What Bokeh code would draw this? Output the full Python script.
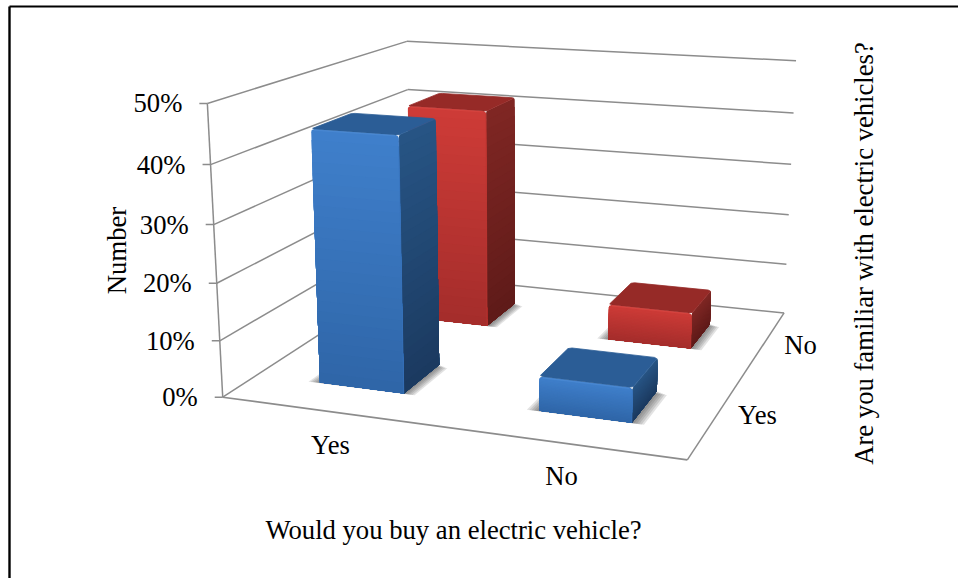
import numpy as np
from bokeh.plotting import figure
from bokeh.models import Range1d, ColumnDataSource
from bokeh.core.properties import value
from bokeh.embed import file_html
from bokeh.resources import INLINE

# Survey results, percent of respondents
buy_categories = ["Yes", "No"]
familiar_categories = ["Yes", "No"]
familiar_yes = [44.5, 6.0]
familiar_no = [41.8, 6.8]
tick_values = [0, 10, 20, 30, 40, 50]
tick_labels = ["0%", "10%", "20%", "30%", "40%", "50%"]

AXIS_MAX = 50.0
BAR_SIZE = 0.197
ROUND_XY = 0.007   # corner rounding on the floor plane
ROUND_Z = 0.55     # corner rounding in axis percent
GRID = "#8c8c8c"
FONT = value("Liberation Serif")
FS = "26.67px"

PALETTE = {
    "blue": dict(front=("#3F7FCB", "#2F66A8"), side=("#275484", "#1B3A60"), top="#2B5D96", edge="#4A88D2"),
    "red": dict(front=("#CD3B37", "#A52D2B"), side=("#7F2623", "#5F1B19"), top="#962A27", edge="#D6443F"),
}

# Camera: a 3x4 projective matrix solved from how the chart box's corners land on the page
box = [(0, 0, 0), (1, 0, 0), (1, 1, 0), (0, 1, 0), (0, 0, 1), (1, 1, 1), (0, 1, 1)]
page = [(221, 397), (687, 459), (783, 313), (412, 274), (208, 103), (796, 60), (405, 41)]
rows = []
for (x, y, z), (u, v) in zip(box, page):
    rows.append([x, y, z, 1, 0, 0, 0, 0, -u * x, -u * y, -u * z, -u])
    rows.append([0, 0, 0, 0, x, y, z, 1, -v * x, -v * y, -v * z, -v])
CAMERA = np.linalg.svd(np.array(rows, float))[2][-1].reshape(3, 4)


def project(x, y, pct):
    h = CAMERA @ np.array([x, y, pct / AXIS_MAX, 1.0])
    return float(h[0] / h[2]), float(h[1] / h[2])


def mix(a, b, t):
    ca = [int(a[i:i + 2], 16) for i in (1, 3, 5)]
    cb = [int(b[i:i + 2], 16) for i in (1, 3, 5)]
    return "#%02x%02x%02x" % tuple(round(p + (q - p) * t) for p, q in zip(ca, cb))


p = figure(width=958, height=578, x_range=Range1d(0, 958), y_range=Range1d(578, 0),
           output_backend="svg", toolbar_location=None, min_border=0,
           background_fill_color="white", border_fill_color="white", outline_line_color=None)
p.axis.visible = False
p.grid.visible = False


def seg(a, b, color=GRID, width=1.5):
    p.line([a[0], b[0]], [a[1], b[1]], line_color=color, line_width=width)


# Page frame: top and left rules only
p.line([9, 958], [6, 6], line_color="black", line_width=2)
p.line([9, 9], [6, 578], line_color="black", line_width=2.4)

# Walls, floor outline and value ticks
for t in tick_values:
    seg(project(0, 0, t), project(0, 1, t))
    seg(project(0, 1, t), project(1, 1, t))
    ax, ay = project(0, 0, t)
    seg((ax - 8, ay), (ax, ay))
seg(project(0, 0, 0), project(0, 0, AXIS_MAX))
seg(project(0, 0, 0), project(1, 0, 0), width=1.7)
seg(project(1, 0, 0), project(1, 1, 0))


def outline(pts):
    return [q[0] for q in pts], [q[1] for q in pts]


def shoulder(val, level):
    """Levels and insets of the rounded top corner, from `level` down to where it ends."""
    start = val - ROUND_Z
    if level <= start:
        return [(level, 0.0)]
    out = []
    for a in np.linspace(level, start, 5):
        t = (a - start) / ROUND_Z
        out.append((float(a), ROUND_XY * (1 - np.sqrt(max(0.0, 1 - t * t)))))
    return out


def face(val, level, at, lo, hi):
    """Outline of a bar face from `level` to the floor, `at` maps (u, pct) to the page."""
    sh = shoulder(val, level)
    left = [at(lo + inset, a) for a, inset in sh]
    right = [at(hi - inset, a) for a, inset in reversed(sh)]
    return left + [at(lo, 0), at(hi, 0)] + right


def draw_bar(ci, ri, val, colors):
    cx, cy = (ci + 0.5) / 2, (ri + 0.5) / 2
    x0, x1 = cx - BAR_SIZE / 2, cx + BAR_SIZE / 2
    y0, y1 = cy - BAR_SIZE / 2, cy + BAR_SIZE / 2

    # Soft contact shadow on the floor
    for d in (0.026, 0.021, 0.016, 0.011, 0.006):
        sx, sy = outline([project(x0 - d, y0 - d * 0.12, 0), project(x1 + d, y0 - d * 0.12, 0),
                          project(x1 + d, y1 - d * 0.6, 0), project(x0 - d, y1 - d * 0.6, 0)])
        p.patch(sx, sy, fill_color="#3a3a3a", fill_alpha=0.15, line_color=None)

    # Each band runs from its level to the floor, so later bands paint over earlier
    # ones and leave no seams in the vertical gradient
    n = 24
    levels = np.linspace(val, 0, n + 1)[:-1]
    xs, ys, fills = [], [], []
    side_at = lambda y, a: project(x1, y, a)
    front_at = lambda x, a: project(x, y0, a)
    for i, a in enumerate(levels):
        sx, sy = outline(face(val, a, side_at, y0, y1))
        xs.append(sx); ys.append(sy); fills.append(mix(*colors["side"], i / (n - 1)))
    for i, a in enumerate(levels):
        sx, sy = outline(face(val, a, front_at, x0, x1))
        xs.append(sx); ys.append(sy); fills.append(mix(*colors["front"], i / (n - 1)))
    src = ColumnDataSource(dict(xs=xs, ys=ys, fill=fills))
    p.patches("xs", "ys", source=src, fill_color="fill", line_color=None)

    # Top face with softened corners
    e = ROUND_XY
    sx, sy = outline([project(x0 + e, y0, val), project(x1 - e, y0, val), project(x1, y0 + e, val),
                      project(x1, y1 - e, val), project(x1 - e, y1, val), project(x0 + e, y1, val),
                      project(x0, y1 - e, val), project(x0, y0 + e, val)])
    p.patch(sx, sy, fill_color=colors["top"], line_color=colors["top"], line_width=0.8, line_join="round")

    # Bevel highlights: top front edge and the vertical edge between front and side
    ex, ey = outline([project(x0 + e, y0, val - 0.15), project(x1 - e, y0, val - 0.15)])
    p.line(ex, ey, line_color=colors["edge"], line_width=1.6, line_alpha=0.85)
    ex, ey = outline([project(x1, y0, val - ROUND_Z), project(x1, y0, 0)])
    p.line(ex, ey, line_color=mix(*colors["front"], 0.5), line_width=1.0, line_alpha=0.7)


# Far row first, near row over it
for ci in range(len(buy_categories)):
    draw_bar(ci, 1, familiar_no[ci], PALETTE["red"])
for ci in range(len(buy_categories)):
    draw_bar(ci, 0, familiar_yes[ci], PALETTE["blue"])


def label(x, y, txt, angle=0.0, align="center"):
    p.text([x], [y], text=[txt], text_font=FONT, text_font_size=FS, text_color="black",
           text_align=align, text_baseline="middle", angle=angle)


# Value axis labels
for t, s in zip(tick_values, tick_labels):
    ax, ay = project(0, 0, t)
    label(ax - 25, ay, s, align="right")

# Category labels
label(330, 444, buy_categories[0])
label(561, 475, buy_categories[1])
label(757, 414, familiar_categories[0])
label(800, 344, familiar_categories[1])

# Axis titles
label(116, 250, "Number", angle=np.pi / 2)
label(453, 529, "Would you buy an electric vehicle?")
label(863, 253, "Are you familiar with electric vehicles?", angle=np.pi / 2)

open("out.html", "w").write(file_html(p, INLINE))
